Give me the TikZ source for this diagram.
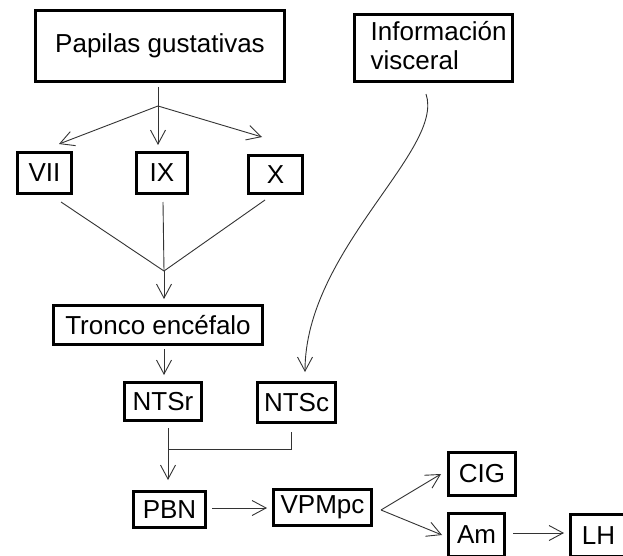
\documentclass[tikz,border=0pt]{standalone}
\usepackage{fontspec}
\setmainfont{Liberation Sans}
\usetikzlibrary{arrows.meta}
\begin{document}
\begin{tikzpicture}[x=1pt,y=-1pt,
  box/.style={draw=black, line width=3pt, rectangle, inner sep=0pt,
    font=\fontsize{26pt}{29pt}\selectfont},
  conn/.style={draw=black!80, line width=0.9pt},
  >={Straight Barb[length=14pt,width=15pt]}]
\useasboundingbox (0,0) rectangle (623,556);
\clip (0,0) rectangle (623,556);
\fill[white] (0,0) rectangle (623,556);
% boxes
\node[box, minimum width=249pt, minimum height=71pt] (pap) at (160,46) {Papilas gustativas};
\node[box, minimum width=158pt, minimum height=67pt] (info) at (433.5,48) {};
\node[anchor=west, align=left, inner sep=0pt, font=\fontsize{26pt}{29pt}\selectfont] (infotext) at ([xshift=17.5pt,yshift=2pt]info.west) {Información\\visceral};
\node[box, minimum width=54pt, minimum height=41pt] (vii) at (44.5,173) {VII};
\node[box, minimum width=51pt, minimum height=41pt] (ix) at (162,173) {IX};
\node[box, minimum width=54pt, minimum height=38pt] (nx) at (275.5,174.5) {X};
\node[box, minimum width=209pt, minimum height=39pt] (tronco) at (158,325) {Tronco encéfalo};
\node[box, minimum width=77pt, minimum height=38pt] (ntsr) at (163,401.5) {NTSr};
\node[box, minimum width=78pt, minimum height=40pt] (ntsc) at (296.5,402.5) {NTSc};
\node[box, minimum width=72pt, minimum height=36pt] (pbn) at (169.5,509.5) {PBN};
\node[box, minimum width=98pt, minimum height=36pt] (vpm) at (322.5,507.5) {VPMpc};
\node[box, minimum width=67pt, minimum height=43pt] (cig) at (482,474) {CIG};
\node[box, minimum width=56pt, minimum height=43pt] (am) at (476.5,535) {Am};
\node[box, minimum width=56pt, minimum height=42pt] (lh) at (598.5,535.5) {LH};
% connectors
\coordinate (b1) at (158,106);
\draw[conn] ([xshift=-2pt,yshift=-4pt]pap.south) -- (b1);
\draw[conn,->] (b1) -- ([xshift=14.5pt,yshift=7pt]vii.north);
\draw[conn,->] (b1) -- ([xshift=-4pt,yshift=6pt]ix.north);
\draw[conn,->] (b1) -- ([xshift=-13.5pt,yshift=17pt]nx.north);
\coordinate (m1) at (164,271);
\draw[conn] ([xshift=16.5pt,yshift=-7pt]vii.south) -- (m1);
\draw[conn] ([xshift=1pt,yshift=-7pt]ix.south) -- (m1);
\draw[conn] ([xshift=-10.5pt,yshift=-5pt]nx.south) -- (m1);
\draw[conn,->] (m1) -- ([xshift=6pt,yshift=5pt]tronco.north);
\draw[conn,->] ([xshift=6pt,yshift=-3pt]tronco.south) -- ([xshift=1pt,yshift=6pt]ntsr.north);
\draw[conn,->] ([xshift=-7.5pt,yshift=-11pt]info.south) .. controls +(19,56) and +(0,-122) .. ([xshift=8.5pt,yshift=9pt]ntsc.north);
\coordinate (j1) at (168,449);
\draw[conn,->] ([xshift=5pt,yshift=-6pt]ntsr.south) -- ([xshift=-1.5pt,yshift=10pt]pbn.north);
\draw[conn] ([xshift=-5.5pt,yshift=-8pt]ntsc.south) |- (j1);
\draw[conn,->] ([xshift=5pt,yshift=1.5pt]pbn.east) -- ([xshift=-5pt,yshift=1.5pt]pbn.east -| vpm.west);
\coordinate (v1) at ([xshift=8pt,yshift=-2.5pt]vpm.east);
\draw[conn,->] (v1) -- ([xshift=-6pt]cig.west);
\draw[conn,->] (v1) -- ([xshift=-5pt]am.west);
\draw[conn,->] ([xshift=7pt,yshift=2pt]am.east) -- ([xshift=-5pt,yshift=2pt]am.east -| lh.west);
\end{tikzpicture}
\end{document}
